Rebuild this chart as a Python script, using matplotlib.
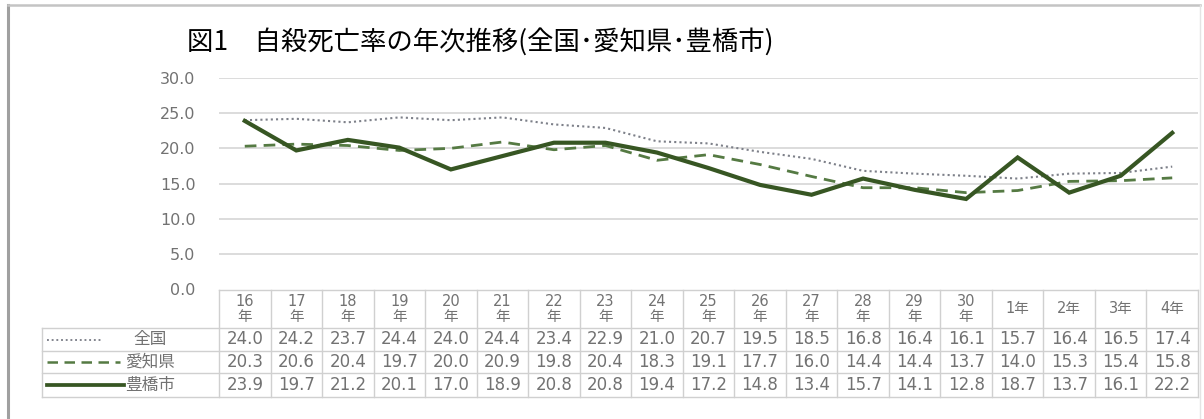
import matplotlib
matplotlib.use("Agg")
import matplotlib.pyplot as plt
from matplotlib.lines import Line2D
import matplotlib.transforms as mtransforms

# ---------------- data ----------------
col_labels = ["16\n年", "17\n年", "18\n年", "19\n年", "20\n年", "21\n年", "22\n年",
              "23\n年", "24\n年", "25\n年", "26\n年", "27\n年", "28\n年", "29\n年",
              "30\n年", "1年", "2年", "3年", "4年"]
series_names = ["全国", "愛知県", "豊橋市"]
zenkoku = [24.0, 24.2, 23.7, 24.4, 24.0, 24.4, 23.4, 22.9, 21.0, 20.7, 19.5, 18.5,
           16.8, 16.4, 16.1, 15.7, 16.4, 16.5, 17.4]
aichi = [20.3, 20.6, 20.4, 19.7, 20.0, 20.9, 19.8, 20.4, 18.3, 19.1, 17.7, 16.0,
         14.4, 14.4, 13.7, 14.0, 15.3, 15.4, 15.8]
toyohashi = [23.9, 19.7, 21.2, 20.1, 17.0, 18.9, 20.8, 20.8, 19.4, 17.2, 14.8, 13.4,
             15.7, 14.1, 12.8, 18.7, 13.7, 16.1, 22.2]
y_ticks = [0, 5, 10, 15, 20, 25, 30]
title = "図1　自殺死亡率の年次推移(全国･愛知県･豊橋市)"

# ---------------- styles ----------------
W, H, DPI = 1204, 419, 100
styles = [
    dict(color="#7d8089", lw=1.5, ls=(0, (1, 1.5))),
    dict(color="#557a43", lw=2.0, ls=(0, (4.2, 2.6))),
    dict(color="#375623", lw=3.0, ls="-"),
]
grid_c = "#d9d9d9"
txt_c = "#727272"
cjk = ["DejaVu Sans", "Noto Sans CJK JP"]

fig = plt.figure(figsize=(W / DPI, H / DPI), dpi=DPI)
fig.patch.set_facecolor("white")

# pixel layout of plot area
ax_l, ax_r, ax_t, ax_b = 219, 1198, 78, 289
ax = fig.add_axes([ax_l / W, 1 - ax_b / H, (ax_r - ax_l) / W, (ax_b - ax_t) / H])
n = len(col_labels)
ax.set_xlim(-0.5, n - 0.5)
ax.set_ylim(0, 30)
for s in ax.spines.values():
    s.set_visible(False)
ax.set_xticks([])
ax.set_yticks(y_ticks)
ax.set_yticklabels([f"{v:.1f}" for v in y_ticks], family="DejaVu Sans",
                   fontsize=11.5, color=txt_c)
ax.tick_params(axis="y", length=0, pad=17)
for v in y_ticks[1:]:
    ax.axhline(v, color=grid_c, lw=1.3, zorder=0)

x = list(range(n))
for vals, st in zip([zenkoku, aichi, toyohashi], styles):
    ax.plot(x, vals, color=st["color"], lw=st["lw"], linestyle=st["ls"],
            solid_joinstyle="miter", zorder=3)

# ---------------- table ----------------
colw = (ax_r - ax_l) / n
def px2x(px):
    return -0.5 + (px - ax_l) / colw
def px2y(py):
    return (ax_b - py) / (ax_b - ax_t)

tr = mtransforms.blended_transform_factory(ax.transData, ax.transAxes)
border_c = "#d0d0d0"
head_top, head_bot = 290, 328
row_bounds = [328, 351, 373, 397]
lab_left = 42

def seg(x0, x1, y0, y1, **kw):
    ax.add_line(Line2D([x0, x1], [y0, y1], transform=tr, clip_on=False,
                       color=kw.get("color", border_c), lw=kw.get("lw", 1.0),
                       linestyle=kw.get("ls", "-")))

# header top and verticals
seg(-0.5, n - 0.5, px2y(head_top), px2y(head_top))
for i in range(n + 1):
    seg(i - 0.5, i - 0.5, px2y(head_top), px2y(row_bounds[-1]))
for rb in row_bounds:
    seg(px2x(lab_left), n - 0.5, px2y(rb), px2y(rb))
seg(px2x(lab_left), px2x(lab_left), px2y(row_bounds[0]), px2y(row_bounds[-1]))

# header labels
hy = px2y((head_top + head_bot) / 2)
for i, lab in enumerate(col_labels):
    ax.text(i, hy, lab, transform=tr, ha="center", va="center", fontsize=10.5,
            family=cjk, color=txt_c, linespacing=1.05, clip_on=False)

# rows
line_ends = [102, 120, 124]
for r, (name, vals, st) in enumerate(zip(series_names, [zenkoku, aichi, toyohashi], styles)):
    yc = px2y((row_bounds[r] + row_bounds[r + 1]) / 2)
    seg(px2x(47), px2x(line_ends[r]), yc, yc, color=st["color"], lw=st["lw"] * 0.9, ls=st["ls"])
    ax.text(px2x(150), yc, name, transform=tr, ha="center", va="center",
            fontsize=12, family=["Noto Sans CJK JP"], color=txt_c, clip_on=False)
    for i, v in enumerate(vals):
        ax.text(i, yc, f"{v:.1f}", transform=tr, ha="center", va="center",
                fontsize=12, family="DejaVu Sans", color=txt_c, clip_on=False)

# ---------------- title & frame ----------------
fig.text(187 / W, 1 - 42 / H, title, ha="left", va="center", fontsize=19,
         family=["Noto Sans CJK JP", "DejaVu Sans"], color="black")

fig.add_artist(Line2D([8 / W, 8 / W], [0, 1 - 5 / H], transform=fig.transFigure,
                      color="#a0a0a0", lw=2.2))
fig.add_artist(Line2D([8 / W, 1200 / W], [1 - 5 / H, 1 - 5 / H], transform=fig.transFigure,
                      color="#c4c4c4", lw=1.8))
fig.add_artist(Line2D([1200 / W, 1200 / W], [0, 1 - 5 / H], transform=fig.transFigure,
                      color="#e4e4e4", lw=1.0))

fig.savefig("out.png", dpi=DPI, facecolor="white")
